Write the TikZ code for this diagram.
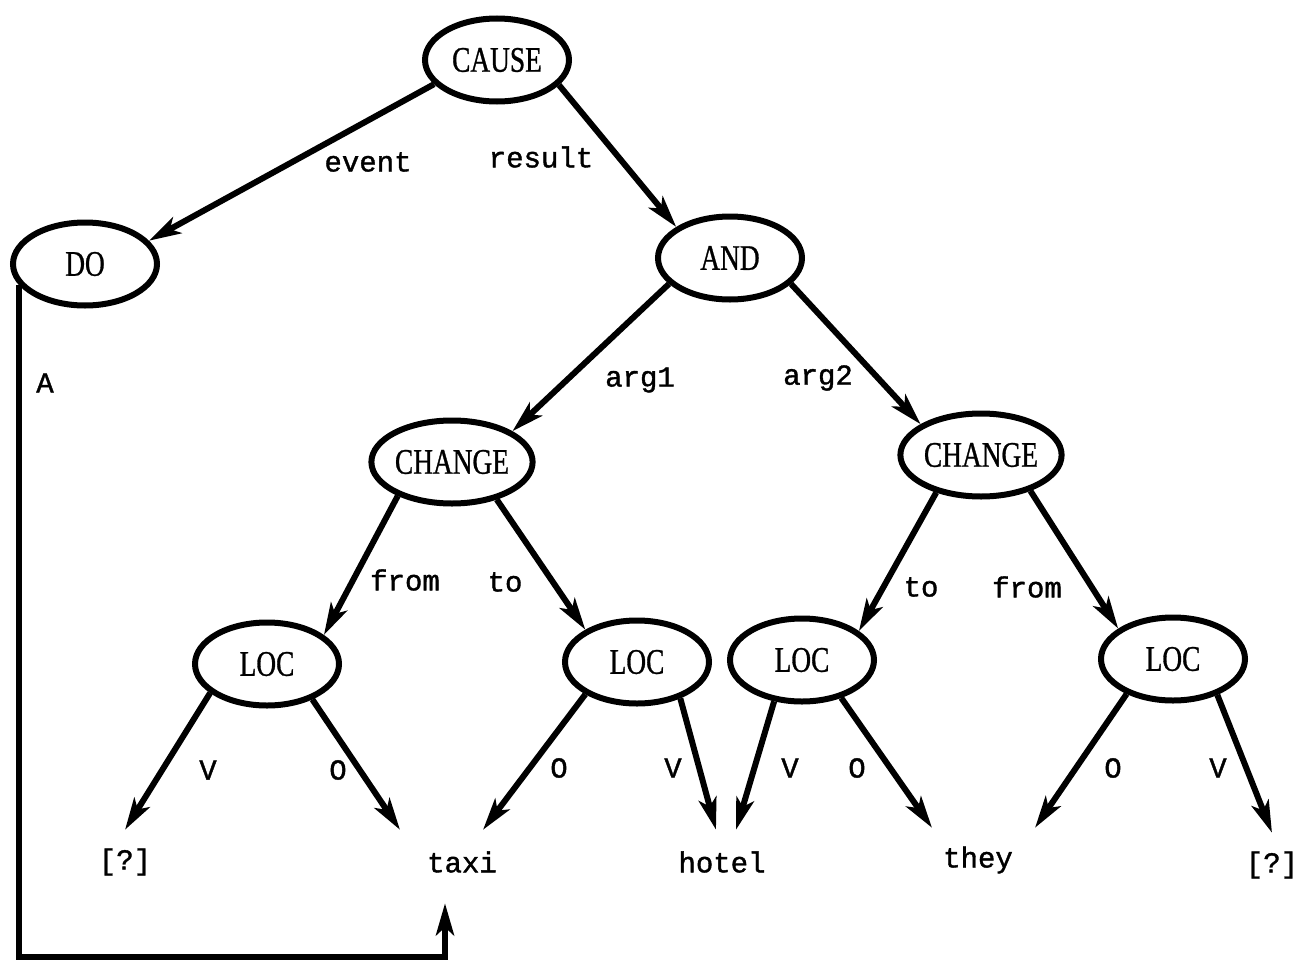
\documentclass[tikz,border=0pt]{standalone}
\usepackage{fontspec}
\setmainfont{Liberation Serif}
\newfontfamily\nodefont[FakeStretch=0.76,FakeBold=0.8]{Liberation Serif}
\newfontfamily\twfont[FakeBold=1.3]{Liberation Mono}
\usetikzlibrary{arrows.meta,calc,shapes.geometric}
\begin{document}
\begin{tikzpicture}[x=1pt,y=-1pt,
  conc/.style={ellipse, draw, line width=6pt, minimum width=144pt, minimum height=83pt, inner sep=0pt,
    font=\nodefont\fontsize{36}{36}\selectfont},
  leaf/.style={inner sep=0pt, minimum height=64pt, font=\twfont\fontsize{29}{29}\selectfont},
  lab/.style={inner sep=0pt, font=\twfont\fontsize{29}{29}\selectfont},
  arr/.style={line width=6pt, -{Stealth[length=32pt,width=18pt,inset=8pt]}}]
\useasboundingbox (0,0) rectangle (1301,961);

% concept nodes
\node[conc] (cause) at (497,60) {CAUSE};
\node[conc] (do) at (85,264) {DO};
\node[conc] (and) at (730,258) {AND};
\node[conc] (chl) at (452,462) {CHANGE};
\node[conc] (chr) at (981,455) {CHANGE};
\node[conc] (loc1) at (267,664) {LOC};
\node[conc] (loc2) at (637,662) {LOC};
\node[conc] (loc3) at (802,660) {LOC};
\node[conc] (loc4) at (1173,659) {LOC};

% leaves
\node[leaf] (lq1) at (125,862) {[?]};
\node[leaf] (taxi) at (462,862) {taxi};
\node[leaf] (hotel) at (722,862) {hotel};
\node[leaf] (they) at (978,860) {they};
\node[leaf] (lq2) at (1272,865) {[?]};

% edges between concepts
\draw[arr] (cause.201) -- (do.20);
\draw[arr] (cause.-22) -- (and.150);
\draw[arr] (and.-157) -- (chl.27);
\draw[arr] (and.-23) -- (chr.153);
\draw[arr] (chl.-148) -- (loc1.27);
\draw[arr] (chl.-40) -- (loc2.148);
\draw[arr] (chr.-140) -- (loc3.27);
\draw[arr] (chr.-36) -- (loc4.151);

% edges to leaves
\draw[arr] (loc1.-153) -- (lq1.north);
\draw[arr] (loc1.-38) -- ($(taxi.north)+(-62,0)$);
\draw[arr] (loc2.-148) -- ($(taxi.north)+(21,0)$);
\draw[arr] (loc2.-40) -- ($(hotel.north)+(-6,0)$);
\draw[arr] (loc3.-124) -- ($(hotel.north)+(14,0)$);
\draw[arr] (loc3.-44) -- ($(they.north)+(-46,0)$);
\draw[arr] (loc4.-143) -- ($(they.north)+(57,0)$);
\draw[arr] (loc4.-39) -- (lq2.north);

% A link from DO to taxi
\coordinate (ybot) at (0,957);
\coordinate (tip) at ($(taxi.south)+(-17,9)$);
\draw[arr] (do.198) -- (do.198 |- ybot) -- (tip |- ybot) -- (tip);

% labels
\node[lab] (l-event) at (368,162) {event};
\node[lab] (l-result) at (541,157) {result};
\node[lab] (l-A) at (45,383) {A};
\node[lab] (l-arg1) at (640,380) {arg1};
\node[lab] (l-arg2) at (818,378) {arg2};
\node[lab] (l-from1) at (405,580) {from};
\node[lab] (l-to1) at (505,582) {to};
\node[lab] (l-to2) at (921,587) {to};
\node[lab] (l-from2) at (1027,587) {from};
\node[lab] (l-v1) at (208,770) {V};
\node[lab] (l-o1) at (338,770) {O};
\node[lab] (l-o2) at (559,768) {O};
\node[lab] (l-v2) at (673,768) {V};
\node[lab] (l-v3) at (790,768) {V};
\node[lab] (l-o3) at (857,768) {O};
\node[lab] (l-o4) at (1113,768) {O};
\node[lab] (l-v4) at (1218,768) {V};
\end{tikzpicture}
\end{document}
